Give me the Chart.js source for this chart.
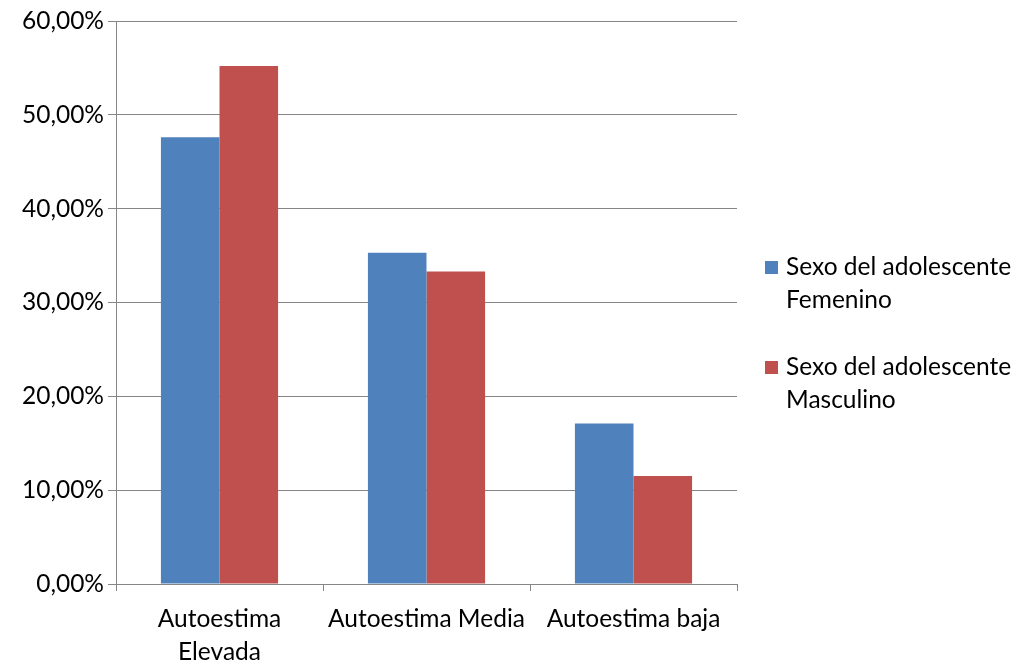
<!DOCTYPE html>
<html>
<head>
<meta charset="utf-8">
<script src="https://cdn.jsdelivr.net/npm/chart.js@4/dist/chart.umd.min.js"></script>
<style>
  html, body { margin: 0; padding: 0; background: #fff; }
  #wrap { width: 1019px; height: 664px; position: relative; }
</style>
</head>
<body>
<div id="wrap"><canvas id="c" width="1019" height="664"></canvas></div>
<script>
// Categories and values (percent)
const categories = [['Autoestima', 'Elevada'], 'Autoestima Media', 'Autoestima baja'];
const seriesNames = [
  ['Sexo del adolescente', 'Femenino'],
  ['Sexo del adolescente', 'Masculino']
];
const femenino = [47.6, 35.3, 17.1];
const masculino = [55.2, 33.3, 11.5];
const yTicks = [0, 10, 20, 30, 40, 50, 60];

const FONT = 'Lato, "Open Sans", sans-serif';
const FSIZE = 24.5;
const GRID = '#868686';

// Legend drawn to the right of the plot, one entry per dataset
const sideLegend = {
  id: 'sideLegend',
  afterDraw(chart) {
    const ctx = chart.ctx;
    ctx.save();
    ctx.font = FSIZE + 'px ' + FONT;
    ctx.textBaseline = 'middle';
    ctx.textAlign = 'left';
    const lineH = 33;
    let y = 267;
    chart.data.datasets.forEach(ds => {
      ctx.fillStyle = ds.backgroundColor;
      ctx.fillRect(765, y - 6, 13, 13);
      ctx.fillStyle = '#000';
      const lines = Array.isArray(ds.label) ? ds.label : [ds.label];
      lines.forEach((t, i) => ctx.fillText(t, 786, y + i * lineH));
      y += 100;
    });
    ctx.restore();
  }
};

new Chart(document.getElementById('c'), {
  type: 'bar',
  data: {
    labels: categories,
    datasets: [
      { label: seriesNames[0], data: femenino, backgroundColor: '#4F81BD' },
      { label: seriesNames[1], data: masculino, backgroundColor: '#C0504D' }
    ]
  },
  options: {
    responsive: false,
    animation: false,
    layout: { padding: { top: 21, right: 282, left: 0, bottom: 0 } },
    datasets: { bar: { categoryPercentage: 0.566, barPercentage: 1 } },
    plugins: { legend: { display: false }, tooltip: { enabled: false } },
    scales: {
      x: {
        grid: { drawOnChartArea: false, drawTicks: true, tickLength: 7, color: GRID, offset: true },
        border: { color: GRID, width: 1 },
        ticks: { color: '#000', padding: 12, font: { family: FONT, size: FSIZE, lineHeight: 33 / FSIZE }, maxRotation: 0, autoSkip: false },
        afterFit(s) { s.height = 80; }
      },
      y: {
        min: 0, max: 60,
        afterBuildTicks(s) { s.ticks = yTicks.map(v => ({ value: v })); },
        grid: { color: GRID, tickLength: 8 },
        border: { color: GRID, width: 1 },
        ticks: {
          color: '#000', padding: 4,
          font: { family: FONT, size: FSIZE },
          callback: v => v.toFixed(2).replace('.', ',') + '%'
        },
        afterFit(s) { s.width = 116; }
      }
    }
  },
  plugins: [sideLegend]
});
</script>
</body>
</html>
